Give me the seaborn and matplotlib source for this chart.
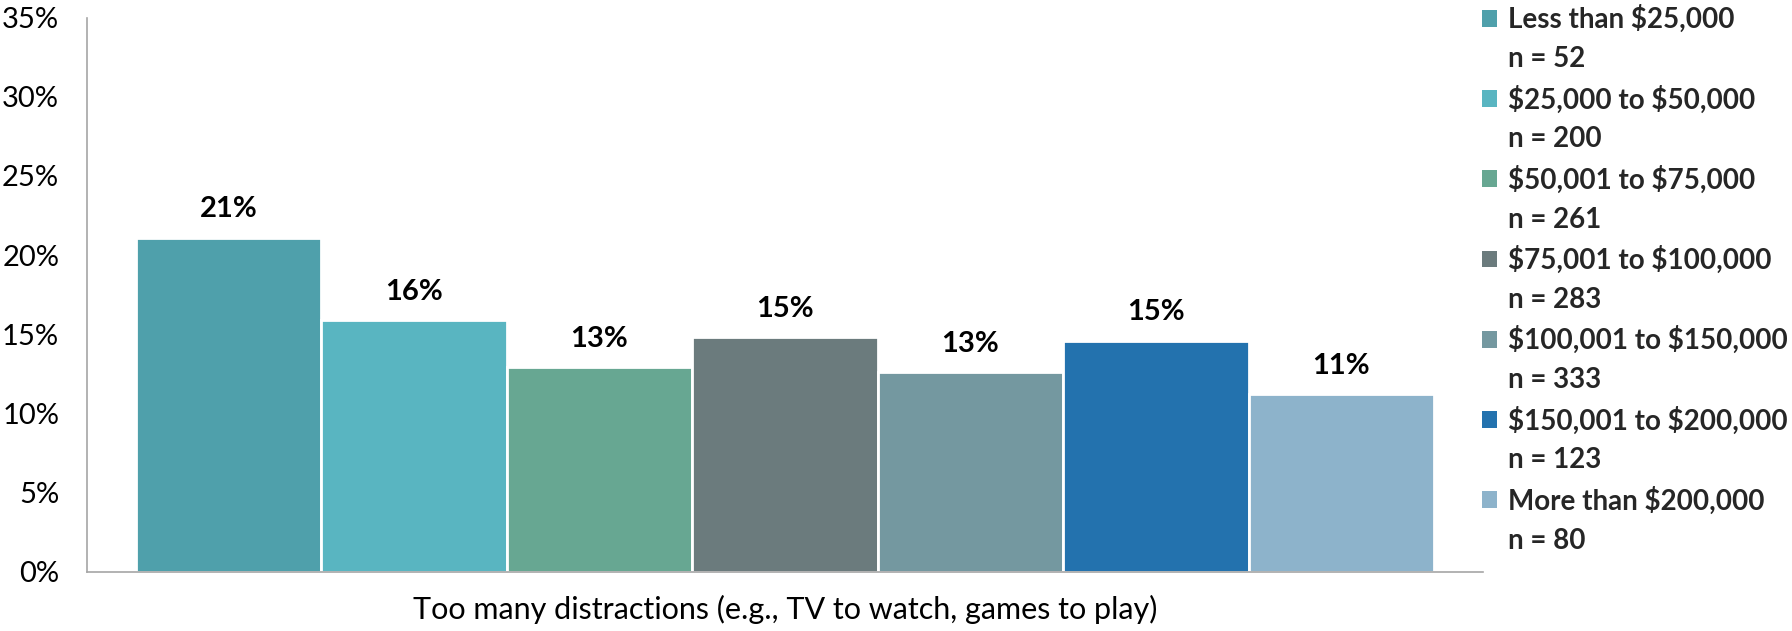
"""Income-group bar chart: share citing too many distractions."""

import matplotlib.pyplot as plt
import pandas as pd
import seaborn as sns
from matplotlib.patches import Patch
from matplotlib.ticker import FuncFormatter, MultipleLocator

sns.set_theme(style="white")
plt.rcParams["font.family"] = ["Lato", "DejaVu Sans"]

item = "Too many distractions (e.g., TV to watch, games to play)"
groups = [
    "Less than \\$25,000",
    "\\$25,000 to \\$50,000",
    "\\$50,001 to \\$75,000",
    "\\$75,001 to \\$100,000",
    "\\$100,001 to \\$150,000",
    "\\$150,001 to \\$200,000",
    "More than \\$200,000",
]
sample_sizes = [52, 200, 261, 283, 333, 123, 80]
values = [21.1, 15.9, 12.9, 14.8, 12.6, 14.6, 11.2]
colors = ["#4FA0AB", "#59B5C1", "#67A792", "#6B7B7D", "#7498A0", "#2372AE", "#8DB3CB"]

df = pd.DataFrame({"item": item, "group": groups, "pct": values})

fig = plt.figure(figsize=(17.92, 6.31), dpi=100)
ax = fig.add_axes([0.0485, 0.094, 0.779, 0.878])

sns.barplot(
    data=df, x="item", y="pct", hue="group", hue_order=groups,
    palette=colors, width=0.93, saturation=1, edgecolor="white",
    linewidth=2, legend=False, ax=ax,
)

for container, v in zip(ax.containers, values):
    ax.bar_label(container, labels=[f"{v:.0f}%"], padding=11,
                 fontsize=21, fontweight="bold", color="black")

ax.set_ylim(0, 35)
ax.yaxis.set_major_locator(MultipleLocator(5))
ax.yaxis.set_major_formatter(FuncFormatter(lambda x, _: f"{x:.0f}%"))
ax.set_xlim(-0.5, 0.5)
ax.set_xlabel("")
ax.set_ylabel("")
ax.tick_params(axis="y", length=0, pad=20, labelsize=21, labelcolor="black")
ax.tick_params(axis="x", length=0, pad=17, labelsize=22, labelcolor="black")

for side in ["top", "right"]:
    ax.spines[side].set_visible(False)
for side in ["left", "bottom"]:
    ax.spines[side].set_color("#A6A6A6")
    ax.spines[side].set_linewidth(1.2)

# legend: one row for the group, one blank-handle row for the sample size
handles, labels = [], []
for g, n, c in zip(groups, sample_sizes, colors):
    handles.append(Patch(facecolor=c, edgecolor="none"))
    labels.append(g)
    handles.append(Patch(facecolor="none", edgecolor="none"))
    labels.append(f"n = {n}")

fig.legend(
    handles, labels, loc="upper left", bbox_to_anchor=(1482 / 1792, 1 - 5 / 631),
    frameon=False, borderpad=0, borderaxespad=0, handlelength=0.55,
    handleheight=0.55, handletextpad=0.4, labelspacing=0.47,
    prop={"size": 20, "weight": "bold"},
)

fig.savefig("out.png", dpi=100)
